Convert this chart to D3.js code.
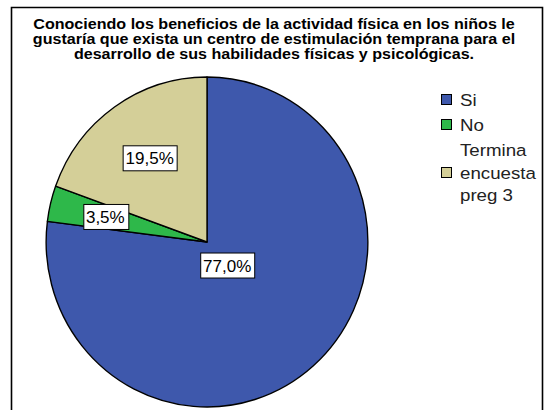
<!DOCTYPE html>
<html>
<head>
<meta charset="utf-8">
<script src="https://cdn.jsdelivr.net/npm/d3@7.9.0/dist/d3.min.js"></script>
<style>
  body { margin: 0; background: #fff; }
  svg { display: block; font-family: "Liberation Sans", Arial, sans-serif; }
</style>
</head>
<body>
<svg id="chart" width="544" height="410"></svg>
<script>
// chart data
const categories = ['Si', 'No', 'Termina encuesta preg 3'];
const percents = [77.0, 3.5, 19.5];
const legendLines = [['Si'], ['No'], ['Termina', 'encuesta', 'preg 3']];
const titleLines = [
  'Conociendo los beneficios de la actividad física en los niños le',
  'gustaría que exista un centro de estimulación temprana para el',
  'desarrollo de sus habilidades físicas y psicológicas.'
];
const colors = ['#3e58ac', '#2eb84a', '#d4cf98'];
// how far out (fraction of radius) each label box sits
const labelRadius = [0.19, 0.65, 0.62];

const svg = d3.select('#chart');

// outer frame (bottom is cut off in the picture)
svg.append('path')
  .attr('d', 'M11.5,420 V7.5 H542.5 V420')
  .attr('fill', 'none')
  .attr('stroke', '#000')
  .attr('stroke-width', 1.6);

// title (source text is a bit wide, so stretch it horizontally)
const title = svg.append('text')
  .attr('transform', 'translate(274,0) scale(1.11,1)')
  .attr('text-anchor', 'middle')
  .attr('font-weight', 'bold')
  .attr('font-size', 14.5)
  .attr('fill', '#000');
titleLines.forEach((line, i) => {
  title.append('tspan')
    .attr('x', 0)
    .attr('y', 29 + i * 15)
    .text(line);
});

// pie, slightly narrower than tall like the source image
const cx = 207, cy = 242, r = 165;
const pie = d3.pie().sort(null).value(d => d);
const arcs = pie(percents);
const arc = d3.arc().innerRadius(0).outerRadius(r);

const g = svg.append('g')
  .attr('transform', `translate(${cx},${cy}) scale(0.975,1)`);

g.selectAll('path')
  .data(arcs)
  .join('path')
  .attr('d', arc)
  .attr('fill', (d, i) => colors[i])
  .attr('stroke', '#000')
  .attr('stroke-width', 1.4)
  .attr('stroke-linejoin', 'round');

// percentage labels in white boxes
const fmt = v => d3.format('.1f')(v).replace('.', ',') + '%';
arcs.forEach((d, i) => {
  const a = (d.startAngle + d.endAngle) / 2;
  const x = cx + Math.sin(a) * r * 0.975 * labelRadius[i];
  const y = cy - Math.cos(a) * r * labelRadius[i];
  const lbl = svg.append('g').attr('transform', `translate(${x},${y})`);
  const t = lbl.append('text')
    .attr('text-anchor', 'middle')
    .attr('dy', '0.36em')
    .attr('font-size', 17)
    .attr('fill', '#000')
    .text(fmt(percents[i]));
  const bb = t.node().getBBox();
  lbl.insert('rect', 'text')
    .attr('x', Math.round(bb.x - 3) + 0.5)
    .attr('y', -12.5)
    .attr('width', Math.round(bb.width + 6))
    .attr('height', 25)
    .attr('fill', '#fff')
    .attr('stroke', '#000')
    .attr('stroke-width', 1);
});

// legend
const legendY = [100, 125, 173];
const legend = svg.append('g');
categories.forEach((c, i) => {
  legend.append('rect')
    .attr('x', 441.5)
    .attr('y', legendY[i] - 5.5)
    .attr('width', 10)
    .attr('height', 10)
    .attr('fill', colors[i])
    .attr('stroke', '#000')
    .attr('stroke-width', 1);
  const lines = legendLines[i];
  const t = legend.append('text')
    .attr('transform', 'translate(460,0) scale(1.1,1)')
    .attr('font-size', 17)
    .attr('fill', '#222');
  lines.forEach((line, j) => {
    t.append('tspan')
      .attr('x', 0)
      .attr('y', legendY[i] + 6 + (j - (lines.length - 1) / 2) * 22.5)
      .text(line);
  });
});
</script>
</body>
</html>
